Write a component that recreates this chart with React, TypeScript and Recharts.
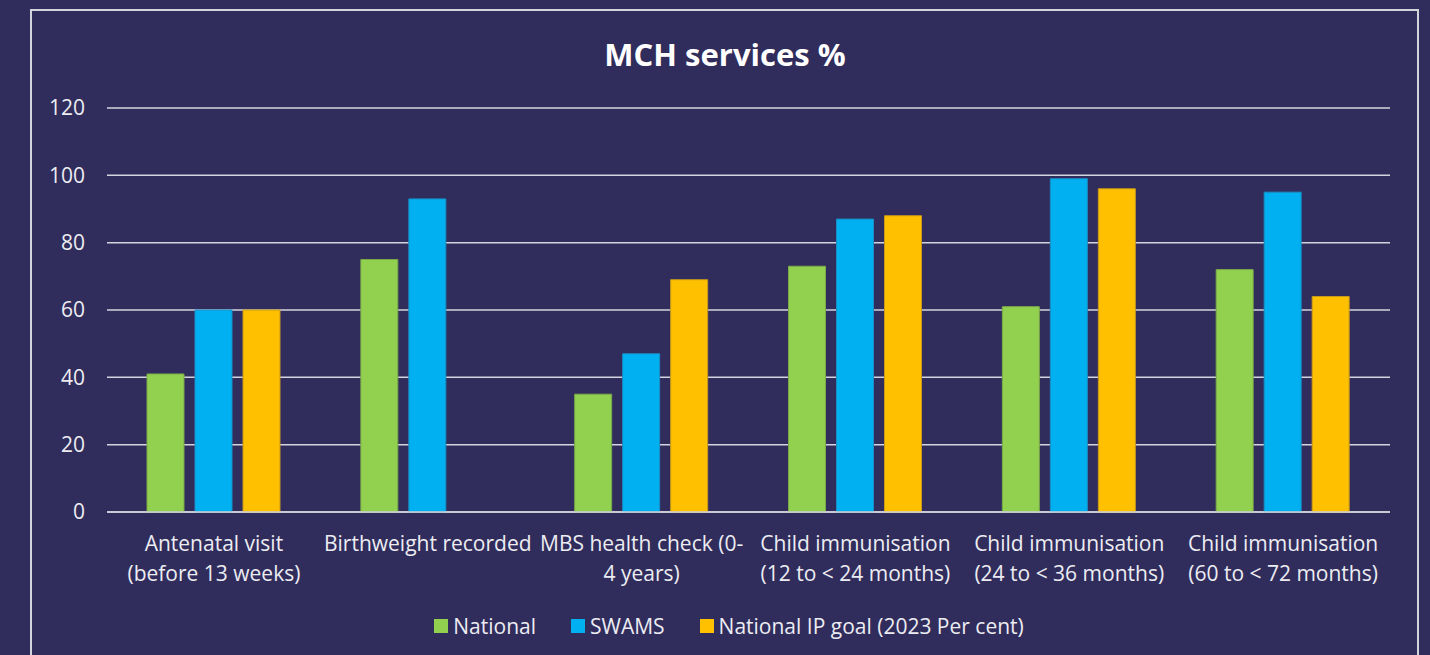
import React from "react";
import { BarChart, Bar, XAxis, YAxis, CartesianGrid } from "recharts";

const categories = [
  "Antenatal visit\n(before 13 weeks)",
  "Birthweight recorded",
  "MBS health check (0-\n4 years)",
  "Child immunisation\n(12 to < 24 months)",
  "Child immunisation\n(24 to < 36 months)",
  "Child immunisation\n(60 to < 72 months)",
];
const national = [41, 75, 35, 73, 61, 72];
const swams = [60, 93, 47, 87, 99, 95];
const ipGoal: (number | null)[] = [60, null, 69, 88, 96, 64];
const yTicks = [0, 20, 40, 60, 80, 100, 120];

const seriesNames = ["National", "SWAMS", "National IP goal (2023 Per cent)"];
const seriesColors = ["#92d050", "#00b0f0", "#ffc000"];

const data = categories.map((c, i) => ({
  name: c,
  national: national[i],
  swams: swams[i],
  goal: ipGoal[i],
}));

const BG = "#302c5c";
const TXT = "#ececf2";
const FONT = "'Open Sans', Lato, sans-serif";
const FS = 21;

const XTick = (props: any) => {
  const { x, y, payload } = props;
  const lines = String(payload.value).split("\n");
  return (
    <g transform={`translate(${x},${y})`}>
      {lines.map((l: string, i: number) => (
        <text
          key={i}
          x={0}
          y={31 + i * 30}
          textAnchor="middle"
          fill={TXT}
          fontSize={FS}
          fontFamily={FONT}
        >
          {l}
        </text>
      ))}
    </g>
  );
};

export default function App() {
  return (
    <div
      style={{
        position: "fixed",
        left: 0,
        top: 0,
        width: 1430,
        height: 655,
        background: BG,
        overflow: "hidden",
      }}
    >
      <div
        style={{
          position: "absolute",
          left: 30,
          top: 9,
          width: 1389,
          height: 700,
          border: "2px solid #d4d4dc",
          boxSizing: "border-box",
        }}
      />
      <div
        style={{
          position: "absolute",
          left: 0,
          top: 34,
          width: 1450,
          textAlign: "center",
          color: "#ffffff",
          fontFamily: FONT,
          fontWeight: 700,
          fontSize: 31,
          lineHeight: "40px",
        }}
      >
        MCH services %
      </div>
      <div style={{ position: "absolute", left: 0, top: 0 }}>
        <BarChart
          width={1430}
          height={655}
          data={data}
          margin={{ top: 108, right: 40, bottom: 83, left: 0 }}
          barSize={37}
          barGap={11}
        >
          <CartesianGrid vertical={false} stroke="#d4d4dc" strokeWidth={1.5} />
          <XAxis
            dataKey="name"
            tick={<XTick />}
            tickLine={false}
            axisLine={{ stroke: "#d4d4dc", strokeWidth: 1.5 }}
            height={60}
            interval={0}
          />
          <YAxis
            width={107}
            domain={[0, 120]}
            ticks={yTicks}
            tickLine={false}
            axisLine={false}
            tickSize={6}
            tickMargin={16}
            tick={{ fill: TXT, fontSize: FS, fontFamily: FONT }}
          />
          <Bar
            dataKey="national"
            name={seriesNames[0]}
            fill={seriesColors[0]}
            stroke="#7aa94a"
            strokeWidth={1}
            isAnimationActive={false}
          />
          <Bar
            dataKey="swams"
            name={seriesNames[1]}
            fill={seriesColors[1]}
            stroke="#1a8fc4"
            strokeWidth={1}
            isAnimationActive={false}
          />
          <Bar
            dataKey="goal"
            name={seriesNames[2]}
            fill={seriesColors[2]}
            stroke="#c99a1a"
            strokeWidth={1}
            isAnimationActive={false}
          />
        </BarChart>
      </div>
      <div
        style={{
          position: "absolute",
          left: 0,
          top: 611,
          width: 1458,
          display: "flex",
          justifyContent: "center",
          alignItems: "center",
          gap: 35,
          fontFamily: FONT,
          fontSize: FS,
          color: TXT,
          lineHeight: "30px",
        }}
      >
        {seriesNames.map((n, i) => (
          <div key={n} style={{ display: "flex", alignItems: "center" }}>
            <span
              style={{
                display: "inline-block",
                width: 14,
                height: 14,
                background: seriesColors[i],
                marginRight: 5,
              }}
            />
            <span>{n}</span>
          </div>
        ))}
      </div>
    </div>
  );
}
